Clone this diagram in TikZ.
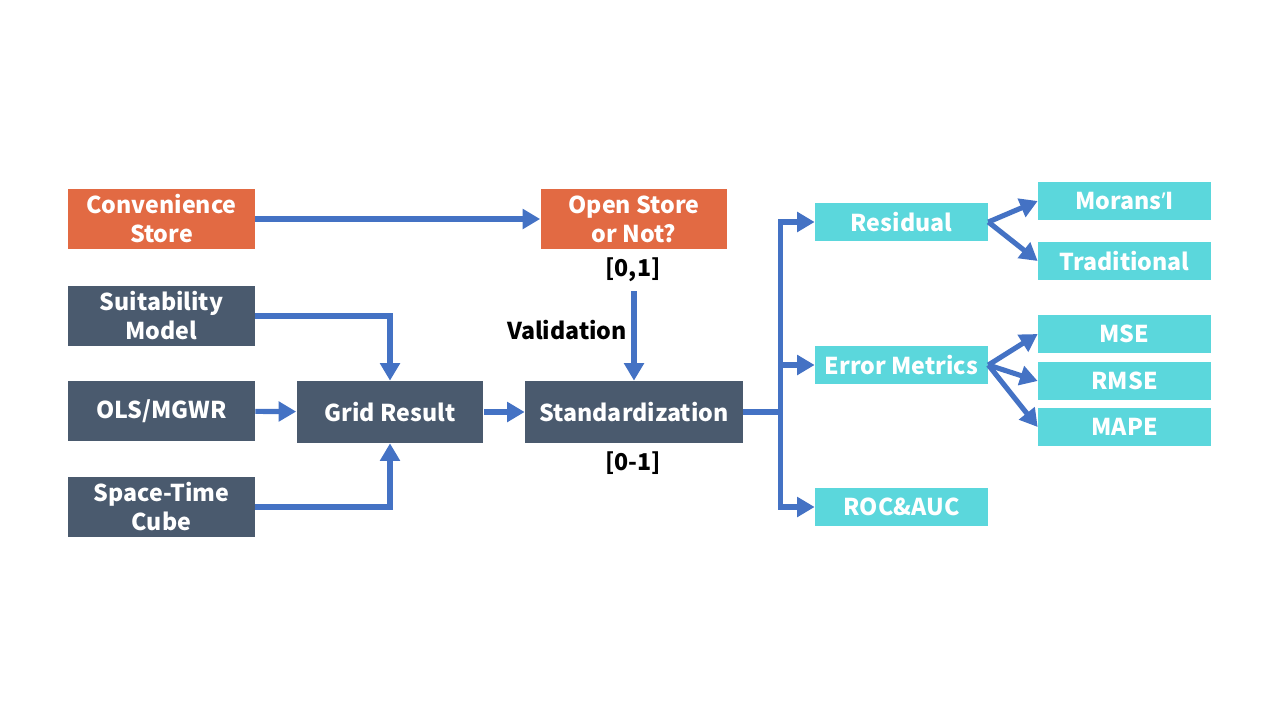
\documentclass[tikz,border=0pt]{standalone}
\usepackage{fontspec}
\setmainfont{Noto Sans CJK SC}
\newfontfamily\apofont{Noto Sans}
\usetikzlibrary{arrows.meta}
\definecolor{fc-orange}{HTML}{E26A43}
\definecolor{fc-slate}{HTML}{4A5A6E}
\definecolor{fc-cyan}{HTML}{5BD7DC}
\definecolor{fc-arrow}{HTML}{4472C4}

\begin{document}
\begin{tikzpicture}[x=0.02cm, y=-0.02cm,
    txt/.style={font=\fontsize{13.2}{16.5}\selectfont\bfseries, align=center, inner sep=0pt},
    box/.style={txt, text=white, minimum width=3.74cm, minimum height=1.2cm},
    inbox/.style={box, fill=fc-orange},
    modelbox/.style={box, fill=fc-slate},
    evalbox/.style={box, fill=fc-cyan, minimum width=3.46cm, minimum height=0.76cm},
    flow/.style={fc-arrow, line width=2.9pt, -{Triangle[length=10pt, width=11pt]}},
    link/.style={fc-arrow, line width=2.9pt}]
    \useasboundingbox (0,0) rectangle (1280,720);
    % inputs
    \node[inbox] (conv) at (161.5,219) {Convenience\\Store};
    \node[modelbox] (suit) at (161.5,316) {Suitability\\Model};
    \node[modelbox] (ols) at (161.5,411) {OLS/MGWR};
    \node[modelbox] (stc) at (161.5,507) {Space-Time\\Cube};
    % middle column
    \node[modelbox, minimum height=1.24cm] (grid) at (390,412) {Grid Result};
    \node[inbox] (open) at (634,219) {Open Store\\or Not?};
    \node[modelbox, minimum width=4.36cm, minimum height=1.24cm] (std) at (634,412) {Standardization};
    \node[txt] (lab01) at (633,270) {[0,1]};
    \node[txt] (valid) at (567,330) {Validation};
    \node[txt] (lab02) at (633,463) {[0-1]};
    % evaluation
    \node[evalbox] (res) at (901.5,222) {Residual};
    \node[evalbox] (err) at (901.5,365) {Error Metrics};
    \node[evalbox] (roc) at (901.5,507) {ROC\&AUC};
    \node[evalbox] (mor) at (1124.5,201) {Morans{\apofont\bfseries’}I};
    \node[evalbox] (trad) at (1124.5,261) {Traditional};
    \node[evalbox] (mse) at (1124.5,334) {MSE};
    \node[evalbox] (rmse) at (1124.5,381) {RMSE};
    \node[evalbox] (mape) at (1124.5,427) {MAPE};
    % connectors
    \draw[flow] (conv) -- (open);
    \draw[flow] (suit.east) -| (grid.north);
    \draw[flow] (stc.east) -| (grid.south);
    \draw[flow] (ols) -- (grid);
    \draw[flow] (grid) -- (std);
    \draw[flow] ([yshift=-5pt]lab01.south -| std.north) -- (std.north);
    \draw[link] (std.east) -- ++(37,0) coordinate (bus);
    \draw[flow] (bus) |- (res);
    \draw[flow] (bus) |- (err);
    \draw[flow] (bus) |- (roc);
    \draw[flow] (res.east) -- (mor.west);
    \draw[flow] (res.east) -- (trad.west);
    \draw[flow] (err.east) -- (mse.west);
    \draw[flow] (err.east) -- (rmse.west);
    \draw[flow] (err.east) -- (mape.west);
\end{tikzpicture}
\end{document}
